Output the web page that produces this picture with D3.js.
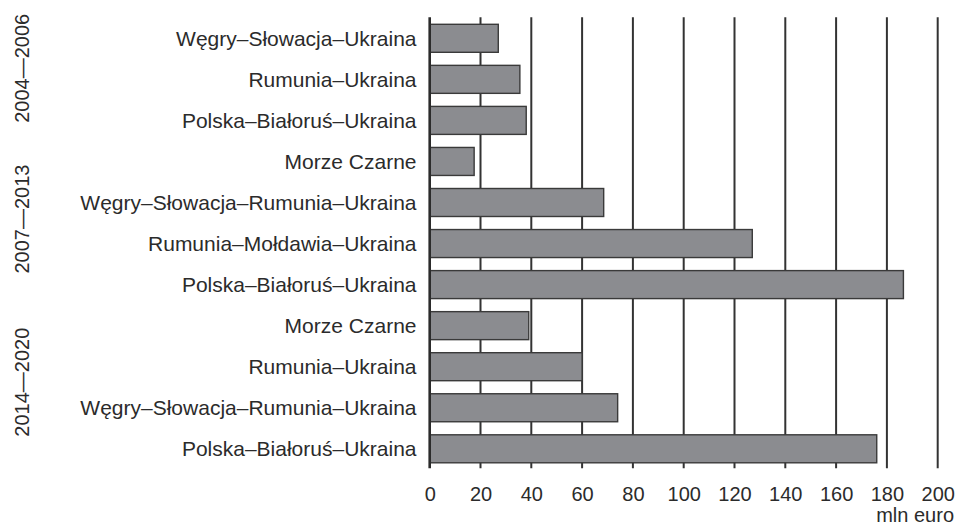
<!DOCTYPE html>
<html>
<head>
<meta charset="utf-8">
<script src="https://cdn.jsdelivr.net/npm/d3@7"></script>
<style>
  body { margin: 0; background: #fff; }
  text { font-family: "Liberation Sans", Arial, sans-serif; fill: #2b2b2b; }
</style>
</head>
<body>
<div id="chart"></div>
<script>
var svgWidth = 958;
var svgHeight = 525;

// Programmes (top to bottom) and allocations in mln euro.
var programmes = [
    "Węgry–Słowacja–Ukraina",
    "Rumunia–Ukraina",
    "Polska–Białoruś–Ukraina",
    "Morze Czarne",
    "Węgry–Słowacja–Rumunia–Ukraina",
    "Rumunia–Mołdawia–Ukraina",
    "Polska–Białoruś–Ukraina",
    "Morze Czarne",
    "Rumunia–Ukraina",
    "Węgry–Słowacja–Rumunia–Ukraina",
    "Polska–Białoruś–Ukraina"
];
var values = [27, 35.5, 38, 17.5, 68.5, 127, 186.5, 39, 60, 74, 176];

// Periods and how many bars each one covers.
var periods = ["2004—2006", "2007—2013", "2014—2020"];
var periodSizes = [3, 4, 4];

var xTicks = [0, 20, 40, 60, 80, 100, 120, 140, 160, 180, 200];
var unitLabel = "mln euro";

var svg = d3.select("#chart")
    .append("svg")
    .attr("width", svgWidth)
    .attr("height", svgHeight);

// Scales.
var xScale = d3.scaleLinear()
    .domain([0, 200])
    .range([429.7, 937.7]);

var yScale = d3.scaleBand()
    .domain(d3.range(programmes.length))
    .range([24.3, 462.8])
    .paddingInner(0.318)
    .paddingOuter(0);

var gridTop = 17.3;
var gridBottom = 468.3;

// Vertical gridlines.
svg.append("g")
    .selectAll("line")
    .data(xTicks.slice(1))
    .enter()
    .append("line")
    .attr("x1", d => xScale(d))
    .attr("x2", d => xScale(d))
    .attr("y1", gridTop)
    .attr("y2", gridBottom)
    .attr("stroke", "#333")
    .attr("stroke-width", 2);

// Bars.
svg.append("g")
    .selectAll("rect")
    .data(values)
    .enter()
    .append("rect")
    .attr("x", xScale(0))
    .attr("y", (d, i) => yScale(i))
    .attr("width", d => xScale(d) - xScale(0))
    .attr("height", yScale.bandwidth())
    .attr("fill", "#8b8c90")
    .attr("stroke", "#3a3a3a")
    .attr("stroke-width", 1.4);

// Zero axis line.
svg.append("line")
    .attr("x1", xScale(0))
    .attr("x2", xScale(0))
    .attr("y1", gridTop)
    .attr("y2", gridBottom)
    .attr("stroke", "#2b2b2b")
    .attr("stroke-width", 2.6);

// Bottom axis (labels only).
var bottomAxis = d3.axisBottom(xScale)
    .tickValues(xTicks)
    .tickSize(0)
    .tickPadding(0);

var xAxis = svg.append("g")
    .attr("transform", `translate(0, ${gridBottom})`)
    .call(bottomAxis);

xAxis.select(".domain").remove();
xAxis.selectAll("text")
    .attr("dy", null)
    .attr("y", 32.4)
    .style("font-size", "20px")
    .style("font-family", '"Liberation Sans", Arial, sans-serif')
    .attr("fill", "#2b2b2b");

svg.append("text")
    .attr("x", 954)
    .attr("y", 521.5)
    .attr("text-anchor", "end")
    .style("font-size", "20px")
    .text(unitLabel);

// Category labels.
svg.append("g")
    .selectAll("text")
    .data(programmes)
    .enter()
    .append("text")
    .attr("x", 416.5)
    .attr("y", (d, i) => yScale(i) + yScale.bandwidth() / 2)
    .attr("dy", "0.36em")
    .attr("text-anchor", "end")
    .style("font-size", "21px")
    .text(d => d);

// Period labels, rotated on the left.
var groupNudge = [-11, -4, -5];
var start = 0;
var periodInfo = periods.map(function(p, k) {
    var first = start;
    var last = start + periodSizes[k] - 1;
    start += periodSizes[k];
    var mid = (yScale(first) + yScale(last) + yScale.bandwidth()) / 2;
    return { label: p, center: mid + groupNudge[k] };
});

svg.append("g")
    .selectAll("text")
    .data(periodInfo)
    .enter()
    .append("text")
    .attr("transform", d => `translate(28.5, ${d.center}) rotate(-90)`)
    .attr("text-anchor", "middle")
    .style("font-size", "20px")
    .text(d => d.label);
</script>
</body>
</html>
